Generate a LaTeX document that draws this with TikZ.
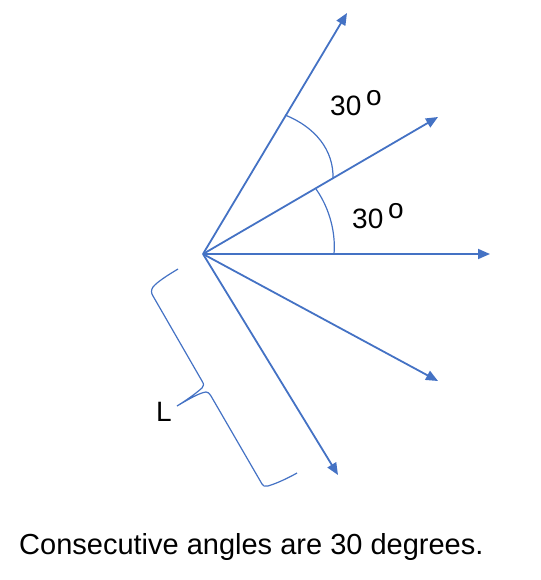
\documentclass[tikz,border=0pt]{standalone}
\usepackage{fontspec}
\setmainfont{Liberation Sans}
\usetikzlibrary{arrows.meta}
\definecolor{pblue}{HTML}{4472C4}
\tikzset{
  vec/.style={draw=pblue, line width=1.8pt, -{Triangle[length=12pt,width=10pt]}},
  thin line/.style={draw=pblue, line width=1.2pt},
  lbl/.style={font=\fontsize{28}{28}\selectfont, inner sep=0pt, anchor=base west},
}
\newcommand{\dego}{\,\raisebox{10pt}{o}}
\begin{document}
\begin{tikzpicture}[x=1pt,y=-1pt]
\useasboundingbox (0,0) rectangle (540,580);
\coordinate (O) at (203,254);
\coordinate (t60) at (347,13);
\coordinate (t30) at (438,117);
\coordinate (t0) at (490,254);
\coordinate (tm30) at (438,381);
\coordinate (tm60) at (338,475);
\draw[vec] (O) -- (t60);
\draw[vec] (O) -- (t30);
\draw[vec] (O) -- (t0);
\draw[vec] (O) -- (tm30);
\draw[vec] (O) -- (tm60);
% angle arcs
\coordinate (a1s) at (334,254);
\coordinate (a1e) at (316,189);
\draw[thin line] (a1s) .. controls (336,230) and (328,206) .. (a1e);
\coordinate (a2s) at (333,179);
\coordinate (a2e) at (285,115);
\draw[thin line] (a2s) .. controls (334,150) and (315,127) .. (a2e);
% brace
\coordinate (b1) at (178,269);
\coordinate (btip) at (177,406);
\coordinate (b2) at (297,473);
\draw[thin line] (b1) .. controls (168,275) and (157,282) .. (153,287)
  .. controls (151,290) and (151,293) .. (153,296) -- (202,381)
  .. controls (204,384) and (204,386) .. (202,388)
  .. controls (194,395) and (185,401) .. (btip)
  .. controls (189,399) and (199,393) .. (206,392)
  .. controls (208,392) and (209,393) .. (211,396) -- (262,484)
  .. controls (263,486) and (265,487) .. (268,486)
  .. controls (278,483) and (290,477) .. (b2);
% labels
\node[lbl] (l1) at (330,116) {30\dego};
\node[lbl] (l2) at (352,228) {30\dego};
\node[lbl] (lL) at (156,421) {L};
\node[inner sep=0pt, anchor=base west, font=\fontsize{29}{29}\selectfont] (cap) at (19,554) {Consecutive angles are 30 degrees.};
\end{tikzpicture}
\end{document}
